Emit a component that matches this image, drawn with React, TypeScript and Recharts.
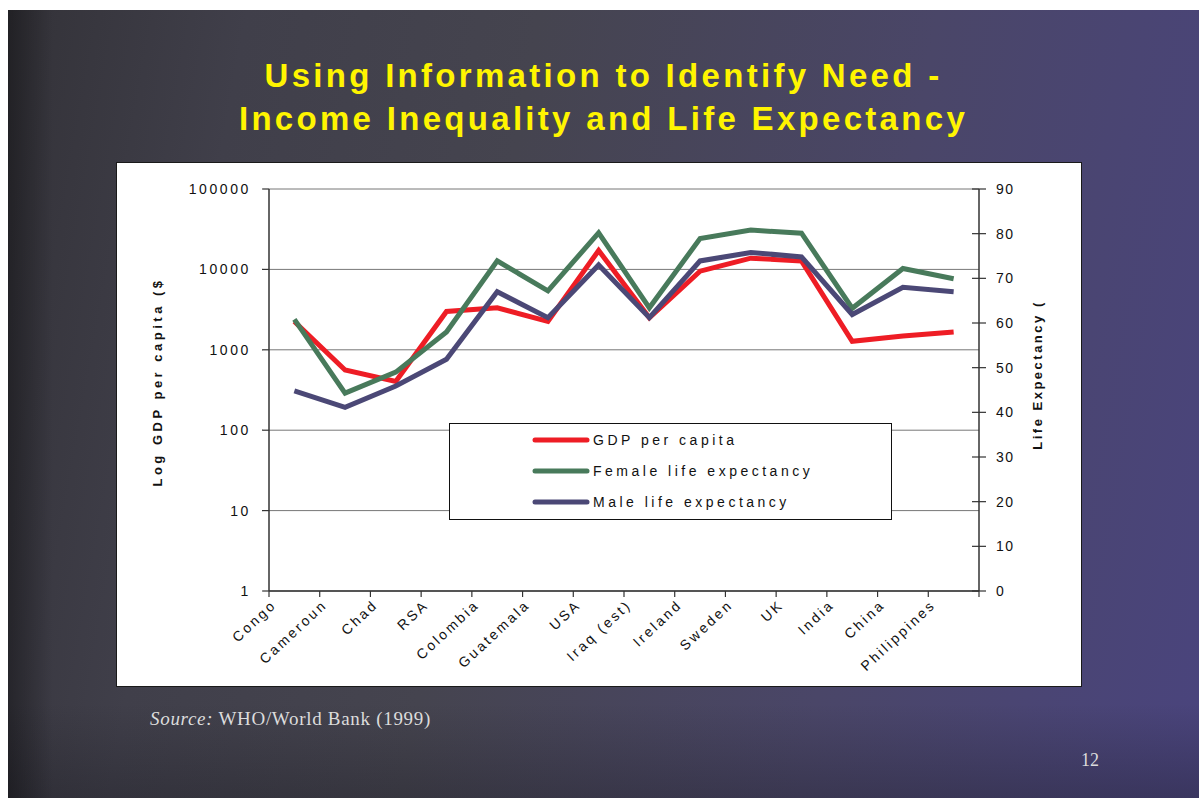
import { ComposedChart, Line, XAxis, YAxis, CartesianGrid, Legend, Label } from 'recharts'

const countries = ['Congo', 'Cameroun', 'Chad', 'RSA', 'Colombia', 'Guatemala', 'USA', 'Iraq (est)', 'Ireland', 'Sweden', 'UK', 'India', 'China', 'Philippines']
const gdpPerCapita = [2250, 560, 405, 3000, 3330, 2260, 17200, 2500, 9500, 13800, 12700, 1275, 1480, 1660]
const femaleLifeExpectancy = [60.8, 44.3, 49, 58, 73.9, 67.2, 80.2, 63.4, 78.9, 80.8, 80.1, 63.3, 72.2, 69.9]
const maleLifeExpectancy = [44.8, 41.1, 45.9, 51.9, 67, 61.2, 73, 61.2, 73.9, 75.8, 74.8, 61.9, 68, 67]
const gdpTicks = [1, 10, 100, 1000, 10000, 100000]
const lifeTicks = [0, 10, 20, 30, 40, 50, 60, 70, 80, 90]
const seriesNames = ['GDP per capita', 'Female life expectancy', 'Male life expectancy']

const RED = '#EE1D25'
const GREEN = '#487A5B'
const PURPLE = '#4B4876'
const AXIS = '#333333'
const FONT = '"Liberation Sans", Arial, sans-serif'

// chart box geometry
const W = 964
const H = 523
const margin = { top: 26, right: 42, bottom: 35, left: 92 }
const Y_W = 60
const X_H = 60
const plotWidth = W - margin.left - margin.right - 2 * Y_W
const band = plotWidth / countries.length

const data = countries.map((country, i) => ({
  country,
  gdp: gdpPerCapita[i],
  female: femaleLifeExpectancy[i],
  male: maleLifeExpectancy[i],
}))

function CountryTick(props: any) {
  const { x, y, payload, index } = props
  const left = x - band / 2
  const tx = x - 17
  const ty = y + 15
  return (
    <g>
      <line x1={left} y1={y} x2={left} y2={y + 6} stroke={AXIS} strokeWidth={1.2} />
      {index === countries.length - 1 && (
        <line x1={x + band / 2} y1={y} x2={x + band / 2} y2={y + 6} stroke={AXIS} strokeWidth={1.2} />
      )}
      <text
        x={tx}
        y={ty}
        textAnchor="end"
        transform={`rotate(-43 ${tx} ${ty})`}
        fontSize={14}
        letterSpacing={2.6}
        fill="#111"
        fontFamily={FONT}
      >
        {payload.value}
      </text>
    </g>
  )
}

function GdpTick(props: any) {
  const { x, y, payload } = props
  return (
    <g>
      <line x1={x - 7} y1={y} x2={x} y2={y} stroke={AXIS} strokeWidth={1.2} />
      <text x={x - 18} y={y + 5} textAnchor="end" fontSize={14} letterSpacing={2.6} fill="#111" fontFamily={FONT}>
        {payload.value}
      </text>
    </g>
  )
}

function LifeTick(props: any) {
  const { x, y, payload } = props
  return (
    <g>
      <line x1={x - 7} y1={y} x2={x + 7} y2={y} stroke={AXIS} strokeWidth={1.2} />
      <text x={x + 17} y={y + 5} textAnchor="start" fontSize={14} letterSpacing={1.5} fill="#111" fontFamily={FONT}>
        {payload.value}
      </text>
    </g>
  )
}

function LegendBox({ payload }: any) {
  // keep the series order, not the alphabetical one
  const items = [...(payload || [])].sort((a: any, b: any) => seriesNames.indexOf(a.value) - seriesNames.indexOf(b.value))
  return (
    <div style={{ width: 441, height: 95, background: '#fff', border: '1px solid #111', position: 'relative', fontFamily: FONT }}>
      {items.map((item: any, i: number) => (
        <div key={item.value} style={{ position: 'absolute', left: 82, top: 6 + i * 31, height: 20, display: 'flex', alignItems: 'center' }}>
          <svg width={58} height={20}>
            <line x1={3} y1={10} x2={55} y2={10} stroke={item.color} strokeWidth={5} strokeLinecap="round" />
          </svg>
          <span style={{ fontSize: 14, letterSpacing: 3.5, color: '#111', marginLeft: 3, whiteSpace: 'nowrap' }}>{item.value}</span>
        </div>
      ))}
    </div>
  )
}

const titleStyle = {
  position: 'absolute' as const,
  left: 0,
  width: 1191,
  textAlign: 'center' as const,
  color: '#FFF500',
  fontFamily: FONT,
  fontWeight: 'bold' as const,
  fontSize: 33,
  lineHeight: '33px',
  letterSpacing: 3.3,
  whiteSpace: 'nowrap' as const,
}

export default function App() {
  return (
    <div
      style={{
        position: 'fixed',
        left: 8,
        top: 10,
        width: 1191,
        height: 788,
        overflow: 'hidden',
        background:
          'linear-gradient(to right, rgba(0,0,0,0.35) 0px, rgba(0,0,0,0) 45px), linear-gradient(to bottom, rgba(20,20,26,0) 88%, rgba(20,20,26,0.3) 100%), linear-gradient(100deg, #333238 0%, #403f4a 18%, #45444f 40%, #4a4668 70%, #4a447d 100%)',
      }}
    >
      <div style={{ ...titleStyle, top: 49 }}>Using Information to Identify Need -</div>
      <div style={{ ...titleStyle, top: 92 }}>Income Inequality and Life Expectancy</div>

      <div style={{ position: 'absolute', left: 108, top: 152, width: W, height: H, background: '#fff', border: '1px solid #1a1a1a' }}>
        <ComposedChart width={W} height={H} data={data} margin={margin}>
          <CartesianGrid yAxisId="gdp" vertical={false} stroke="#777" strokeWidth={1} />
          <XAxis
            dataKey="country"
            scale="band"
            interval={0}
            height={X_H}
            tickLine={false}
            tickSize={0}
            tickMargin={0}
            axisLine={{ stroke: AXIS, strokeWidth: 1.5 }}
            tick={<CountryTick />}
          />
          <YAxis
            yAxisId="gdp"
            scale="log"
            domain={[1, 100000]}
            ticks={gdpTicks}
            width={Y_W}
            tickLine={false}
            tickSize={0}
            tickMargin={0}
            axisLine={{ stroke: AXIS, strokeWidth: 1.5 }}
            tick={<GdpTick />}
          >
            <Label
              content={({ viewBox }: any) => {
                const tx = viewBox.x - 47
                const ty = viewBox.y + viewBox.height / 2 - 8
                return (
                  <text x={tx} y={ty} transform={`rotate(-90 ${tx} ${ty})`} textAnchor="middle" fontSize={13} fontWeight="bold" letterSpacing={3.5} fill="#111" fontFamily={FONT}>
                    Log GDP per capita ($
                  </text>
                )
              }}
            />
          </YAxis>
          <YAxis
            yAxisId="life"
            orientation="right"
            domain={[0, 90]}
            ticks={lifeTicks}
            width={Y_W}
            tickLine={false}
            tickSize={0}
            tickMargin={0}
            axisLine={{ stroke: AXIS, strokeWidth: 1.5 }}
            tick={<LifeTick />}
          >
            <Label
              content={({ viewBox }: any) => {
                const tx = viewBox.x + 63
                const ty = viewBox.y + viewBox.height / 2 - 15
                return (
                  <text x={tx} y={ty} transform={`rotate(-90 ${tx} ${ty})`} textAnchor="middle" fontSize={13} fontWeight="bold" letterSpacing={2.5} fill="#111" fontFamily={FONT}>
                    Life Expectancy (
                  </text>
                )
              }}
            />
          </YAxis>
          <Legend
            layout="horizontal"
            verticalAlign="middle"
            align="center"
            wrapperStyle={{ left: 332, top: 260, width: 443, height: 97 }}
            content={<LegendBox />}
          />
          <Line yAxisId="gdp" dataKey="gdp" name={seriesNames[0]} stroke={RED} strokeWidth={5} dot={false} activeDot={false} isAnimationActive={false} />
          <Line yAxisId="life" dataKey="female" name={seriesNames[1]} stroke={GREEN} strokeWidth={5} dot={false} activeDot={false} isAnimationActive={false} />
          <Line yAxisId="life" dataKey="male" name={seriesNames[2]} stroke={PURPLE} strokeWidth={5} dot={false} activeDot={false} isAnimationActive={false} />
        </ComposedChart>
      </div>

      <div style={{ position: 'absolute', left: 142, top: 699, fontFamily: '"Liberation Serif", "Times New Roman", serif', fontSize: 19, lineHeight: '19px', color: '#dcdcdc', letterSpacing: 0.7, whiteSpace: 'nowrap' }}>
        <i>Source:</i> WHO/World Bank (1999)
      </div>
      <div style={{ position: 'absolute', left: 1073, top: 741, fontFamily: '"Liberation Serif", "Times New Roman", serif', fontSize: 18, lineHeight: '18px', color: '#dcdcdc' }}>
        12
      </div>
    </div>
  )
}
